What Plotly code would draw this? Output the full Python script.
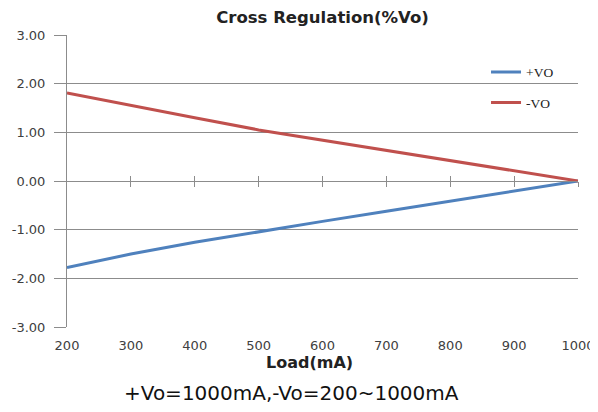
import plotly.graph_objects as go

loads = [200, 300, 400, 500, 600, 700, 800, 900, 1000]
plus_vo = [-1.78, -1.50, -1.26, -1.04, -0.83, -0.62, -0.41, -0.21, 0.00]
minus_vo = [1.81, 1.55, 1.30, 1.05, 0.84, 0.63, 0.42, 0.21, 0.00]
y_ticks = [-3, -2, -1, 0, 1, 2, 3]
y_labels = ["-3.00", "-2.00", "-1.00", "0.00", "1.00", "2.00", "3.00"]

grid = "#8c8c8c"
txt = "#404040"

fig = go.Figure()
fig.add_trace(go.Scatter(x=loads, y=plus_vo, mode="lines", name="+VO",
                         line=dict(color="#4F81BD", width=3), legendgroup="a"))
fig.add_trace(go.Scatter(x=loads, y=minus_vo, mode="lines", name="-VO",
                         line=dict(color="#C0504D", width=3), legendgroup="b"))

fig.update_layout(
    width=590, height=404,
    margin=dict(l=59, r=20, t=27, b=85, autoexpand=False),
    paper_bgcolor="white", plot_bgcolor="white",
    title=dict(text="<b>Cross Regulation(%Vo)</b>", x=0.5, xref="paper", xanchor="center",
               y=0.978, yanchor="middle",
               font=dict(family="DejaVu Sans", size=16.5, color="#222222")),
    legend=dict(x=0.82, y=0.926, xanchor="left", yanchor="top",
                bgcolor="rgba(0,0,0,0)", traceorder="grouped", tracegroupgap=10,
                font=dict(family="Liberation Serif", size=13.5, color="#222222")),
    xaxis=dict(range=[200, 1000], tickvals=loads, ticktext=[str(v) for v in loads],
               showgrid=False, zeroline=False, showline=False, ticks="",
               ticklabelstandoff=9, automargin=False,
               tickfont=dict(family="DejaVu Sans", size=13, color=txt)),
    xaxis2=dict(range=[200, 1000], overlaying="x", anchor="free", position=0.5,
                tickvals=loads[1:], showticklabels=False, showgrid=False, zeroline=False,
                showline=True, linecolor=grid, linewidth=1,
                ticks="outside", ticklen=5, tickcolor=grid),
    xaxis3=dict(range=[200, 1000], overlaying="x", anchor="free", position=0.5,
                tickvals=loads[1:], showticklabels=False, showgrid=False, zeroline=False,
                showline=False, ticks="inside", ticklen=5, tickcolor=grid),
    yaxis=dict(range=[-3, 3], tickvals=y_ticks, ticktext=y_labels,
               showgrid=True, gridcolor=grid, gridwidth=1, zeroline=False,
               showline=True, linecolor=grid, linewidth=1, automargin=False,
               ticks="outside", ticklen=12, tickcolor=grid, ticklabelstandoff=6,
               tickfont=dict(family="DejaVu Sans", size=13, color=txt)),
)

# dummy traces to activate overlay axes
fig.add_trace(go.Scatter(x=[None], y=[None], xaxis="x2", showlegend=False, hoverinfo="skip"))
fig.add_trace(go.Scatter(x=[None], y=[None], xaxis="x3", showlegend=False, hoverinfo="skip"))

fig.add_annotation(text="<b>Load(mA)</b>", xref="paper", yref="paper",
                   x=0.4755, y=-0.12, xanchor="center", yanchor="middle", showarrow=False,
                   font=dict(family="DejaVu Sans", size=16, color="#222222"))
fig.add_annotation(text="+Vo=1000mA,-Vo=200~1000mA", xref="paper", yref="paper",
                   x=0.439, y=-0.226, xanchor="center", yanchor="middle", showarrow=False,
                   font=dict(family="DejaVu Sans", size=20, color="#111111"))

fig.write_html("out.html")
